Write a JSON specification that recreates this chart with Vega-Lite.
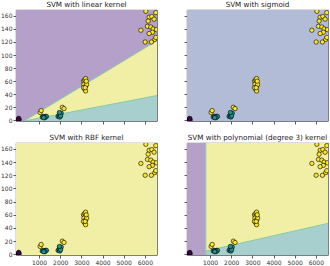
{
  "$schema": "https://vega.github.io/schema/vega-lite/v6.json",
  "padding": {"left": 0, "top": 0, "right": 0, "bottom": 0},
  "background": "white",
  "spacing": 8,
  "config": {
    "view": {"stroke": "#333333", "strokeWidth": 0.8},
    "axis": {"grid": false, "domain": false, "labelFont": "DejaVu Sans", "labelFontSize": 6, "labelColor": "#333333", "tickColor": "#333333", "tickSize": 3, "tickWidth": 0.8, "labelPadding": 1, "title": null, "format": "d", "labelOverlap": false, "labelFlush": false, "tickCount": 20},
    "title": {"font": "DejaVu Sans", "fontSize": 7.2, "fontWeight": "normal", "color": "#222222", "anchor": "middle", "offset": 2},
    "concat": {"spacing": 25}
  },
  "datasets": {
    "regions": [
      {"panel": "linear", "region": "purple", "x": -90, "y": -1, "y2": 169},
      {"panel": "linear", "region": "purple", "x": 300, "y": -1, "y2": 169},
      {"panel": "linear", "region": "purple", "x": 6575, "y": 122, "y2": 169},
      {"panel": "linear", "region": "yellow", "x": 300, "y": -1, "y2": -1},
      {"panel": "linear", "region": "yellow", "x": 6575, "y": 38, "y2": 122},
      {"panel": "linear", "region": "teal", "x": 300, "y": -1, "y2": -1},
      {"panel": "linear", "region": "teal", "x": 6575, "y": -1, "y2": 38},
      {"panel": "sigmoid", "region": "gray", "x": -90, "y": -1, "y2": 169},
      {"panel": "sigmoid", "region": "gray", "x": 6575, "y": -1, "y2": 169},
      {"panel": "rbf", "region": "yellow", "x": -90, "y": -1, "y2": 169},
      {"panel": "rbf", "region": "yellow", "x": 6575, "y": -1, "y2": 169},
      {"panel": "poly", "region": "purple", "x": -90, "y": -1, "y2": 169},
      {"panel": "poly", "region": "purple", "x": 800, "y": -1, "y2": 169},
      {"panel": "poly", "region": "yellow", "x": 800, "y": 5, "y2": 169},
      {"panel": "poly", "region": "yellow", "x": 6575, "y": 47, "y2": 169},
      {"panel": "poly", "region": "teal", "x": 800, "y": -1, "y2": 5},
      {"panel": "poly", "region": "teal", "x": 6575, "y": -1, "y2": 47}
    ],
    "bounds": [
      {"panel": "linear", "seg": "a", "x": 300, "y": -1},
      {"panel": "linear", "seg": "a", "x": 6575, "y": 122},
      {"panel": "linear", "seg": "b", "x": 300, "y": -1},
      {"panel": "linear", "seg": "b", "x": 6575, "y": 38},
      {"panel": "poly", "seg": "c", "x": 800, "y": -1},
      {"panel": "poly", "seg": "c", "x": 800, "y": 169},
      {"panel": "poly", "seg": "d", "x": 800, "y": 5},
      {"panel": "poly", "seg": "d", "x": 6575, "y": 47}
    ],
    "points": [
      {"cls": "c0", "x": 0, "y": 1}, {"cls": "c0", "x": 30, "y": 2}, {"cls": "c0", "x": 60, "y": 1}, {"cls": "c0", "x": 40, "y": 3},
      {"cls": "c1", "x": 1150, "y": 5}, {"cls": "c1", "x": 1200, "y": 6}, {"cls": "c1", "x": 1250, "y": 5}, {"cls": "c1", "x": 1300, "y": 6}, {"cls": "c1", "x": 1350, "y": 6}, {"cls": "c1", "x": 1280, "y": 4}, {"cls": "c1", "x": 1220, "y": 4},
      {"cls": "c1", "x": 1900, "y": 6}, {"cls": "c1", "x": 1950, "y": 8}, {"cls": "c1", "x": 2000, "y": 10}, {"cls": "c1", "x": 2050, "y": 11}, {"cls": "c1", "x": 1980, "y": 5}, {"cls": "c1", "x": 2020, "y": 7}, {"cls": "c1", "x": 1960, "y": 12},
      {"cls": "c2", "x": 1050, "y": 12}, {"cls": "c2", "x": 1100, "y": 15}, {"cls": "c2", "x": 2100, "y": 20}, {"cls": "c2", "x": 2180, "y": 18},
      {"cls": "c2", "x": 3100, "y": 60}, {"cls": "c2", "x": 3150, "y": 62}, {"cls": "c2", "x": 3200, "y": 64}, {"cls": "c2", "x": 3180, "y": 58}, {"cls": "c2", "x": 3120, "y": 55}, {"cls": "c2", "x": 3200, "y": 52}, {"cls": "c2", "x": 3250, "y": 55}, {"cls": "c2", "x": 3150, "y": 48}, {"cls": "c2", "x": 3200, "y": 45}, {"cls": "c2", "x": 3100, "y": 50}, {"cls": "c2", "x": 3230, "y": 60}, {"cls": "c2", "x": 3180, "y": 50},
      {"cls": "c2", "x": 6048, "y": 167}, {"cls": "c2", "x": 6518, "y": 165}, {"cls": "c2", "x": 6203, "y": 158}, {"cls": "c2", "x": 6330, "y": 159}, {"cls": "c2", "x": 6438, "y": 155}, {"cls": "c2", "x": 6156, "y": 152}, {"cls": "c2", "x": 6123, "y": 144}, {"cls": "c2", "x": 6283, "y": 143}, {"cls": "c2", "x": 6391, "y": 140}, {"cls": "c2", "x": 5813, "y": 138}, {"cls": "c2", "x": 6546, "y": 139}, {"cls": "c2", "x": 6358, "y": 135}, {"cls": "c2", "x": 6203, "y": 133}, {"cls": "c2", "x": 6015, "y": 120}, {"cls": "c2", "x": 6311, "y": 120}, {"cls": "c2", "x": 6471, "y": 124}, {"cls": "c2", "x": 6518, "y": 127}
    ]
  },
  "vconcat": [
    {"hconcat": [
      {"title": "SVM with linear kernel", "width": 141, "height": 111, "layer": [
        {"data": {"name": "regions"}, "transform": [{"filter": "datum.panel === 'linear'"}], "mark": {"type": "area", "clip": true},
         "encoding": {
           "x": {"field": "x", "type": "quantitative", "scale": {"domain": [-90, 6575], "nice": false, "zero": false}, "axis": {"values": [1000, 2000, 3000, 4000, 5000, 6000], "labels": false, "tickCount": 20}},
           "y": {"field": "y", "type": "quantitative", "stack": null, "scale": {"domain": [-1, 169], "nice": false, "zero": false}, "axis": {"values": [0, 20, 40, 60, 80, 100, 120, 140, 160], "tickCount": 20}},
           "y2": {"field": "y2"},
           "color": {"field": "region", "type": "nominal", "legend": null, "scale": {"domain": ["purple", "yellow", "teal", "gray", "c0", "c1", "c2"], "range": ["#b4a0c8", "#f1efa5", "#a6cfce", "#b3bcd6", "#440154", "#21918c", "#fde725"]}}}},
        {"data": {"name": "bounds"}, "transform": [{"filter": "datum.panel === 'linear'"}], "mark": {"type": "line", "clip": true, "color": "#86cba0", "strokeWidth": 1},
         "encoding": {"x": {"field": "x", "type": "quantitative"}, "y": {"field": "y", "type": "quantitative"}, "detail": {"field": "seg"}}},
        {"data": {"name": "points"}, "mark": {"type": "circle", "size": 19, "stroke": "black", "strokeWidth": 0.6, "opacity": 1, "clip": true},
         "encoding": {"x": {"field": "x", "type": "quantitative"}, "y": {"field": "y", "type": "quantitative"}, "color": {"field": "cls", "type": "nominal", "legend": null}}}
      ]},
      {"title": "SVM with sigmoid", "width": 141, "height": 111, "layer": [
        {"data": {"name": "regions"}, "transform": [{"filter": "datum.panel === 'sigmoid'"}], "mark": {"type": "area", "clip": true},
         "encoding": {
           "x": {"field": "x", "type": "quantitative", "scale": {"domain": [-90, 6575], "nice": false, "zero": false}, "axis": {"values": [1000, 2000, 3000, 4000, 5000, 6000], "labels": false, "tickCount": 20}},
           "y": {"field": "y", "type": "quantitative", "stack": null, "scale": {"domain": [-1, 169], "nice": false, "zero": false}, "axis": {"values": [0, 20, 40, 60, 80, 100, 120, 140, 160], "labels": false, "tickCount": 20}},
           "y2": {"field": "y2"},
           "color": {"field": "region", "type": "nominal", "legend": null, "scale": {"domain": ["purple", "yellow", "teal", "gray", "c0", "c1", "c2"], "range": ["#b4a0c8", "#f1efa5", "#a6cfce", "#b3bcd6", "#440154", "#21918c", "#fde725"]}}}},
        {"data": {"name": "points"}, "mark": {"type": "circle", "size": 19, "stroke": "black", "strokeWidth": 0.6, "opacity": 1, "clip": true},
         "encoding": {"x": {"field": "x", "type": "quantitative"}, "y": {"field": "y", "type": "quantitative"}, "color": {"field": "cls", "type": "nominal", "legend": null}}}
      ]}
    ]},
    {"hconcat": [
      {"title": "SVM with RBF kernel", "width": 141, "height": 112, "layer": [
        {"data": {"name": "regions"}, "transform": [{"filter": "datum.panel === 'rbf'"}], "mark": {"type": "area", "clip": true},
         "encoding": {
           "x": {"field": "x", "type": "quantitative", "scale": {"domain": [-90, 6575], "nice": false, "zero": false}, "axis": {"values": [1000, 2000, 3000, 4000, 5000, 6000], "tickCount": 20}},
           "y": {"field": "y", "type": "quantitative", "stack": null, "scale": {"domain": [-1, 169], "nice": false, "zero": false}, "axis": {"values": [0, 20, 40, 60, 80, 100, 120, 140, 160], "tickCount": 20}},
           "y2": {"field": "y2"},
           "color": {"field": "region", "type": "nominal", "legend": null, "scale": {"domain": ["purple", "yellow", "teal", "gray", "c0", "c1", "c2"], "range": ["#b4a0c8", "#f1efa5", "#a6cfce", "#b3bcd6", "#440154", "#21918c", "#fde725"]}}}},
        {"data": {"name": "points"}, "mark": {"type": "circle", "size": 19, "stroke": "black", "strokeWidth": 0.6, "opacity": 1, "clip": true},
         "encoding": {"x": {"field": "x", "type": "quantitative"}, "y": {"field": "y", "type": "quantitative"}, "color": {"field": "cls", "type": "nominal", "legend": null}}}
      ]},
      {"title": "SVM with polynomial (degree 3) kernel", "width": 141, "height": 112, "layer": [
        {"data": {"name": "regions"}, "transform": [{"filter": "datum.panel === 'poly'"}], "mark": {"type": "area", "clip": true},
         "encoding": {
           "x": {"field": "x", "type": "quantitative", "scale": {"domain": [-90, 6575], "nice": false, "zero": false}, "axis": {"values": [1000, 2000, 3000, 4000, 5000, 6000], "tickCount": 20}},
           "y": {"field": "y", "type": "quantitative", "stack": null, "scale": {"domain": [-1, 169], "nice": false, "zero": false}, "axis": {"values": [0, 20, 40, 60, 80, 100, 120, 140, 160], "labels": false, "tickCount": 20}},
           "y2": {"field": "y2"},
           "color": {"field": "region", "type": "nominal", "legend": null, "scale": {"domain": ["purple", "yellow", "teal", "gray", "c0", "c1", "c2"], "range": ["#b4a0c8", "#f1efa5", "#a6cfce", "#b3bcd6", "#440154", "#21918c", "#fde725"]}}}},
        {"data": {"name": "bounds"}, "transform": [{"filter": "datum.panel === 'poly'"}], "mark": {"type": "line", "clip": true, "color": "#86cba0", "strokeWidth": 1},
         "encoding": {"x": {"field": "x", "type": "quantitative"}, "y": {"field": "y", "type": "quantitative"}, "detail": {"field": "seg"}}},
        {"data": {"name": "points"}, "mark": {"type": "circle", "size": 19, "stroke": "black", "strokeWidth": 0.6, "opacity": 1, "clip": true},
         "encoding": {"x": {"field": "x", "type": "quantitative"}, "y": {"field": "y", "type": "quantitative"}, "color": {"field": "cls", "type": "nominal", "legend": null}}}
      ]}
    ]}
  ]
}
